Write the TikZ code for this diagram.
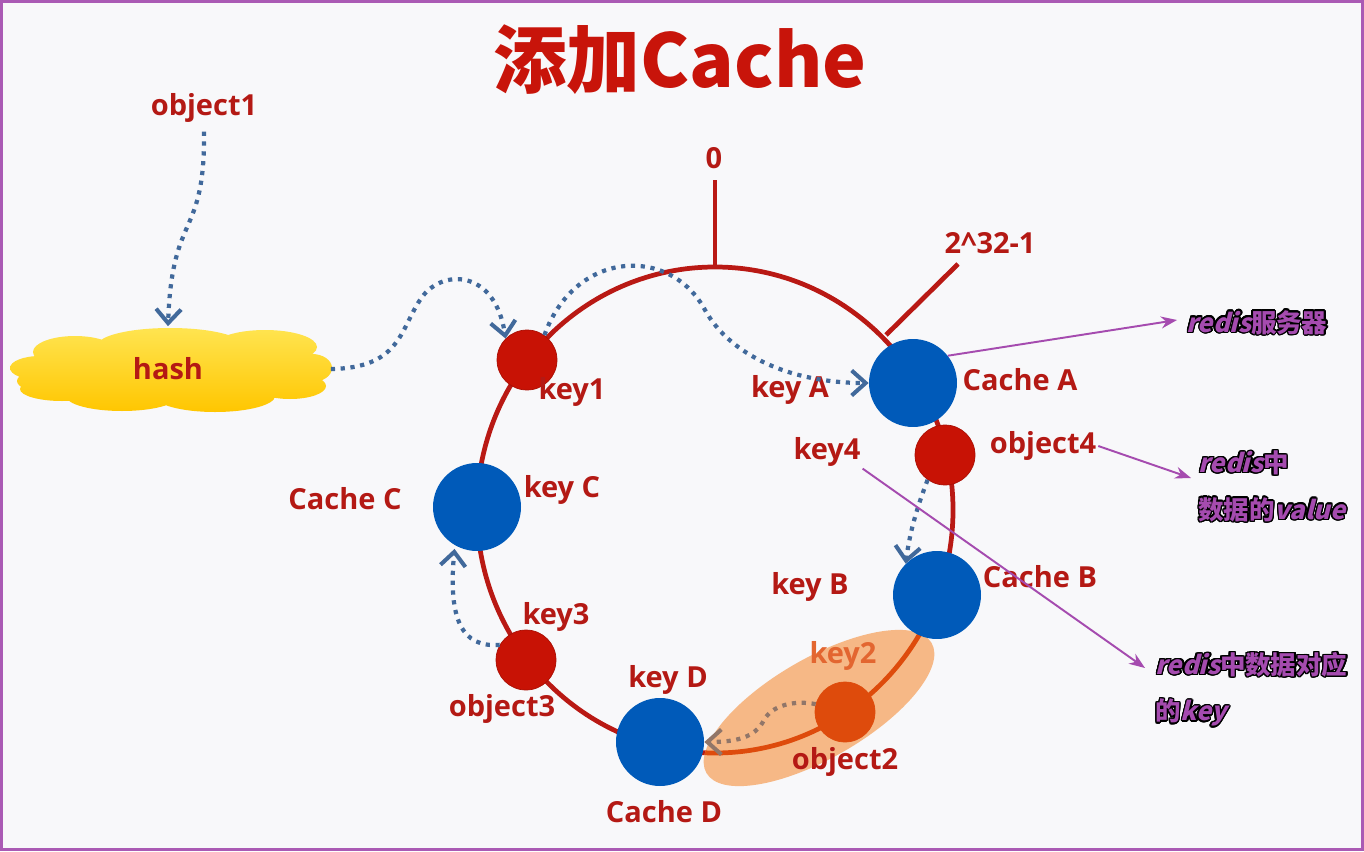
\documentclass[tikz,border=0pt]{standalone}
\usepackage{fontspec}
\setmainfont{Open Sans}
\newfontfamily\cjk{Noto Sans CJK SC}
\newfontfamily\cjksl{Noto Sans CJK SC}[FakeSlant=0.25]
\usepackage[copies]{contour}
\contourlength{0.75pt}
\contournumber{20}
\usetikzlibrary{arrows.meta}
\definecolor{bgc}{RGB}{248,248,250}
\definecolor{framec}{RGB}{170,90,180}
\definecolor{ringc}{RGB}{185,25,20}
\definecolor{srvc}{RGB}{0,90,185}
\definecolor{objc}{RGB}{200,18,5}
\definecolor{newc}{RGB}{222,75,12}
\definecolor{labc}{RGB}{180,25,20}
\definecolor{titlec}{RGB}{200,20,10}
\definecolor{arrc}{RGB}{65,105,155}
\definecolor{dimc}{RGB}{145,118,105}
\definecolor{notec}{RGB}{165,75,175}
\definecolor{hlc}{RGB}{246,184,134}
\definecolor{cloudtop}{RGB}{255,228,80}
\definecolor{cloudbot}{RGB}{255,198,0}
\newcommand\ptxt[1]{\contour{black}{#1}}
\tikzset{
  ring/.style={line width=2.7pt,ringc},
  srv/.style={circle,fill=srvc,minimum size=1.76cm,inner sep=0pt},
  obj/.style={circle,fill=objc,draw=objc!85!black,line width=0.4pt,minimum size=1.2cm,inner sep=0pt},
  lab/.style={text=labc,font=\fontsize{16.5}{18}\selectfont\bfseries,inner sep=1pt},
  hop/.style={arrc,line width=2.4pt,dash pattern=on 2.4pt off 3.2pt,
    -{Straight Barb[length=2.8mm,width=5mm,line width=2.3pt]}},
  note/.style={notec,line width=1.1pt,-{Stealth[length=3.2mm,width=2.4mm]}},
  tip/.style={text=notec,align=left,inner sep=0pt,font=\fontsize{14.5}{26.5}\selectfont\bfseries},
  hl/.style={rotate around={30:(819,708)}},
}
\begin{document}
\begin{tikzpicture}[x=0.02cm,y=-0.02cm]
  \useasboundingbox (0,0) rectangle (1364,851);
  \fill[bgc] (0,0) rectangle (1364,851);
  \draw[framec,line width=1.8pt] (1.5,1.5) rectangle (1362.5,849.5);
  \node[text=titlec,font=\cjk\bfseries\fontsize{42}{46}\selectfont] (title) at (680,60) {添加Cache};
  % hash cloud
  \shade[top color=cloudtop,bottom color=cloudbot]
    (170,370) ellipse [x radius=145, y radius=32]
    (75,352) ellipse [x radius=42, y radius=16] (170,345) ellipse [x radius=72, y radius=17]
    (265,347) ellipse [x radius=52, y radius=17] (40,368) ellipse [x radius=30, y radius=12]
    (45,381) ellipse [x radius=28, y radius=11] (62,389) ellipse [x radius=42, y radius=12]
    (122,396) ellipse [x radius=56, y radius=15] (215,396) ellipse [x radius=60, y radius=16]
    (290,386) ellipse [x radius=36, y radius=13] (312,368) ellipse [x radius=20, y radius=14];
  \node[lab,minimum width=6.5cm,minimum height=1.7cm] (hash) at (168,369) {hash};
  % hash ring
  \draw[ring] (715,510) ellipse [x radius=238, y radius=243];
  \draw[ring] (715,267) -- (715,180);
  \draw[ring] (886,335) -- (958,264);
  % added cache
  \fill[hlc,hl] (819,708) ellipse [x radius=130, y radius=50];
  \begin{scope}
    \clip[hl] (819,708) ellipse [x radius=130, y radius=50];
    \draw[ring,newc] (715,510) ellipse [x radius=238, y radius=243];
  \end{scope}
  % caches and objects
  \node[srv] (cA) at (913,383) {};
  \node[srv] (cB) at (937,595) {};
  \node[srv] (cC) at (477,507) {};
  \node[srv] (cD) at (660,742) {};
  \node[obj] (k1) at (527,360) {};
  \node[obj] (o4) at (945,455) {};
  \node[obj] (o3) at (526,660) {};
  \node[obj,fill=newc,draw=newc] (o2) at (845,712) {};
  \foreach \n/\x/\y/\t in {obj1/204/108/object1, lzero/714/158/0, lmax/990/243/2\textasciicircum32-1,
      lk1/572/392/key1, lkA/790/390/key A, lcA/1020/380/Cache A, lk4/827/452/key4,
      lo4/1043/446/object4, lcC/345/499/Cache C, lkC/562/490/key C, lkB/810/587/key B,
      lcB/1040/577/Cache B, lk3/556/617/key3, lo3/502/709/object3,
      lkD/668/680/key D, lo2/845/762/object2, lcD/664/812/Cache D}
    \node[lab] (\n) at (\x,\y) {\t};
  \node[lab,text=newc!85!white] (lk2) at (843,656) {key2};
  % mapping arrows
  \draw[hop,shorten <=4pt] (obj1.south) .. controls (205,240) and (172,210) .. (hash.north);
  \draw[hop] (hash.east) .. controls (400,368) and (400,330) .. (420,300)
    .. controls (440,268) and (495,268) .. (k1.135);
  \draw[hop] (k1.55) .. controls (575,250) and (670,245) .. (705,310)
    .. controls (730,355) and (790,383) .. (cA.west);
  \draw[hop] (o4.235) .. controls (918,505) and (910,530) .. (cB.135);
  \draw[hop,shorten >=2pt] (o3.150) .. controls (462,648) and (448,620) .. (cC.240);
  \draw[hop,dimc] (o2.165) .. controls (795,700) and (772,705) .. (764,720)
    .. controls (755,738) and (735,742) .. (cD.east);
  % notes
  \node[tip,anchor=west] (srv) at (1186,323) {\ptxt{{\cjksl redis}\cjk 服务器}};
  \node[tip,anchor=west] (val) at (1198,487) {\ptxt{{\cjksl redis}\cjk 中}\\\ptxt{\cjk 数据的{\cjksl value}}};
  \node[tip,anchor=west] (kk) at (1155,690) {\ptxt{{\cjksl redis}\cjk 中数据对应}\\\ptxt{\cjk 的{\cjksl key}}};
  \coordinate (srvtip) at (1177,320);
  \coordinate (valtip) at (1191,478);
  \coordinate (kktip) at (1145,668);
  \draw[note] (cA.38) -- (srvtip);
  \draw[note] (lo4.east) -- (valtip);
  \draw[note] (lk4.south east) -- (kktip);
\end{tikzpicture}
\end{document}
